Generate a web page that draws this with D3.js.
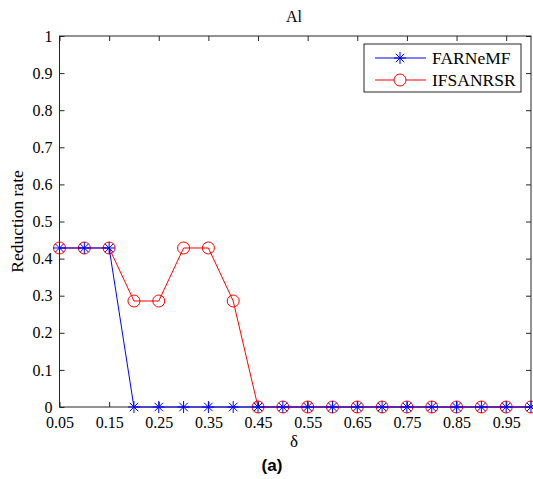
<!DOCTYPE html>
<html>
<head>
<meta charset="utf-8">
<script src="https://cdn.jsdelivr.net/npm/d3@7"></script>
<style>
  body { margin: 0; background: #fff; }
</style>
</head>
<body>
<script>
// data
const deltas = [0.05, 0.1, 0.15, 0.2, 0.25, 0.3, 0.35, 0.4, 0.45, 0.5,
  0.55, 0.6, 0.65, 0.7, 0.75, 0.8, 0.85, 0.9, 0.95, 1.0];
const farnemf = [0.4286, 0.4286, 0.4286, 0, 0, 0, 0, 0, 0, 0,
  0, 0, 0, 0, 0, 0, 0, 0, 0, 0];
const ifsanrsr = [0.4286, 0.4286, 0.4286, 0.2857, 0.2857, 0.4286, 0.4286, 0.2857, 0, 0,
  0, 0, 0, 0, 0, 0, 0, 0, 0, 0];
const xTicks = [0.05, 0.15, 0.25, 0.35, 0.45, 0.55, 0.65, 0.75, 0.85, 0.95];
const yTicks = [0, 0.1, 0.2, 0.3, 0.4, 0.5, 0.6, 0.7, 0.8, 0.9, 1];

const serif = "'Liberation Serif', 'Times New Roman', serif";
const width = 533, height = 479;
const margin = { top: 36, right: 2, bottom: 72, left: 59.5 };
const w = width - margin.left - margin.right, h = height - margin.top - margin.bottom;

const svg = d3.select("body").append("svg")
  .attr("width", width)
  .attr("height", height)
  .style("font-family", serif);
const g = svg.append("g")
  .attr("transform", `translate(${margin.left},${margin.top})`);

const x = d3.scaleLinear().domain([0.05, 1]).range([0, w]);
const y = d3.scaleLinear().domain([0, 1]).range([h, 0]);

// axes (ticks inward on all four sides)
const tickFmt = d => d === 0 ? "0" : d === 1 ? "1" : String(+d.toFixed(2));
const axisColor = "#262626";
function styleAxis(sel) {
  sel.attr("font-family", null).style("font-family", serif);
  sel.select(".domain").remove();
  sel.selectAll("line").attr("stroke", axisColor);
  sel.selectAll("text").attr("font-size", 16).attr("fill", "#000").style("font-family", serif);
}
g.append("g").attr("transform", `translate(0,${h})`)
  .call(d3.axisBottom(x).tickValues(xTicks).tickSize(-5).tickPadding(10).tickFormat(tickFmt))
  .call(styleAxis);
g.append("g")
  .call(d3.axisTop(x).tickValues(xTicks).tickSize(-5).tickFormat(""))
  .call(styleAxis);
g.append("g")
  .call(d3.axisLeft(y).tickValues(yTicks).tickSize(-5).tickPadding(7).tickFormat(tickFmt))
  .call(styleAxis);
g.append("g").attr("transform", `translate(${w},0)`)
  .call(d3.axisRight(y).tickValues(yTicks).tickSize(-5).tickFormat(""))
  .call(styleAxis);
g.append("rect")
  .attr("width", w).attr("height", h)
  .attr("fill", "none").attr("stroke", axisColor).attr("stroke-width", 1);

const line = d3.line().x((d, i) => x(deltas[i])).y(d => y(d));

// IFSANRSR
g.append("path").datum(ifsanrsr)
  .attr("d", line).attr("fill", "none").attr("stroke", "#ff0000").attr("stroke-width", 1);
g.selectAll(".circ").data(ifsanrsr).enter().append("circle")
  .attr("class", "circ")
  .attr("cx", (d, i) => x(deltas[i])).attr("cy", d => y(d)).attr("r", 6)
  .attr("fill", "none").attr("stroke", "#ff0000").attr("stroke-width", 1);

// FARNeMF
const star = d3.symbol().type({
  draw(ctx, size) {
    const r = 6;
    ctx.moveTo(-r, 0); ctx.lineTo(r, 0);
    ctx.moveTo(0, -r); ctx.lineTo(0, r);
    const k = r * 0.707;
    ctx.moveTo(-k, -k); ctx.lineTo(k, k);
    ctx.moveTo(-k, k); ctx.lineTo(k, -k);
  }
});
g.append("path").datum(farnemf)
  .attr("d", line).attr("fill", "none").attr("stroke", "#0000ff").attr("stroke-width", 1);
g.selectAll(".star").data(farnemf).enter().append("path")
  .attr("class", "star")
  .attr("transform", (d, i) => `translate(${x(deltas[i])},${y(d)})`)
  .attr("d", star()).attr("fill", "none").attr("stroke", "#0000ff").attr("stroke-width", 1);

// legend
const lg = svg.append("g").attr("transform", "translate(364,44)");
lg.append("rect").attr("width", 157).attr("height", 48)
  .attr("fill", "#fff").attr("stroke", axisColor);
const entries = [
  { name: "FARNeMF", color: "#0000ff", y: 14, mark: "star" },
  { name: "IFSANRSR", color: "#ff0000", y: 36, mark: "circle" }
];
entries.forEach(e => {
  lg.append("line").attr("x1", 11).attr("x2", 62).attr("y1", e.y).attr("y2", e.y)
    .attr("stroke", e.color);
  if (e.mark === "star") {
    lg.append("path").attr("transform", `translate(36,${e.y})`)
      .attr("d", star()).attr("fill", "none").attr("stroke", e.color);
  } else {
    lg.append("circle").attr("cx", 36).attr("cy", e.y).attr("r", 6)
      .attr("fill", "#fff").attr("stroke", e.color);
  }
  lg.append("text").attr("x", 68).attr("y", e.y + 6).attr("font-size", 17.5).text(e.name);
});

// labels
svg.append("text").attr("x", 294).attr("y", 22)
  .attr("text-anchor", "middle").attr("font-size", 16).text("Al");
svg.append("text").attr("x", 294).attr("y", 447)
  .attr("text-anchor", "middle").attr("font-size", 17).text("δ");
svg.append("text")
  .attr("transform", `translate(23,${margin.top + h / 2}) rotate(-90)`)
  .attr("text-anchor", "middle").attr("font-size", 17.5).text("Reduction rate");
svg.append("text").attr("x", 272).attr("y", 471)
  .attr("text-anchor", "middle").attr("font-size", 17).attr("font-weight", "bold")
  .style("font-family", "Arial, 'Liberation Sans', sans-serif").text("(a)");
</script>
</body>
</html>
